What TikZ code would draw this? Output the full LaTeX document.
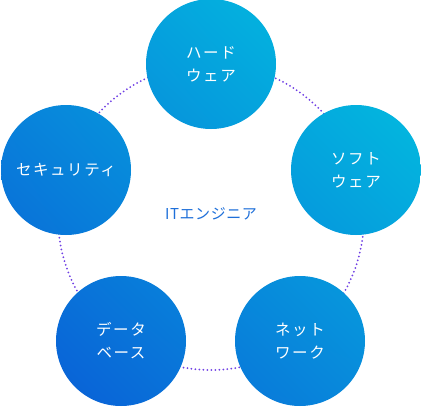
\documentclass[tikz,border=0pt]{standalone}
\usepackage{fontspec}
\usetikzlibrary{shadings}
\setmainfont{Noto Sans CJK JP}
\definecolor{ringc}{HTML}{7040E4}
\definecolor{midc}{HTML}{1E6FD9}
\definecolor{gA}{HTML}{00C8E0}
\definecolor{gB}{HTML}{0A58D6}
\definecolor{gM}{HTML}{0890DC}
\tikzset{
  lbl/.style={text=white, font=\addfontfeature{LetterSpace=10}\fontsize{15.5}{23}\selectfont, align=center, circle, minimum size=130pt, inner sep=0pt},
  ring/.style={draw=ringc, line width=2pt, line cap=round, dash pattern=on 0pt off 4pt},
}
\begin{document}
\begin{tikzpicture}[x=1pt,y=-1pt]
\useasboundingbox (0,0) rectangle (421,407);
\coordinate (o) at (211,217);
\coordinate (p1) at (211,64);
\coordinate (p2) at (356,170);
\coordinate (p3) at (300,341);
\coordinate (p4) at (121,341);
\coordinate (p5) at (66,170);
\draw[ring] (o) circle (153);
\begin{scope}
  \path[clip] (p1) circle (65) (p2) circle (65) (p3) circle (65) (p4) circle (65) (p5) circle (65);
  \shade[upper right=gA, lower left=gB, upper left=gM, lower right=gM] (0,0) rectangle (421,407);
\end{scope}
\node[lbl] (hw) at (p1) {ハード\\ウェア};
\node[lbl] (sw) at (p2) {ソフト\\ウェア};
\node[lbl] (nw) at (p3) {ネット\\ワーク};
\node[lbl] (db) at (p4) {データ\\ベース};
\node[lbl] (sec) at (p5) {セキュリティ};
\node[text=midc, font=\addfontfeature{LetterSpace=4}\fontsize{15}{16}\selectfont] (it) at (211,214) {ITエンジニア};
\end{tikzpicture}
\end{document}
